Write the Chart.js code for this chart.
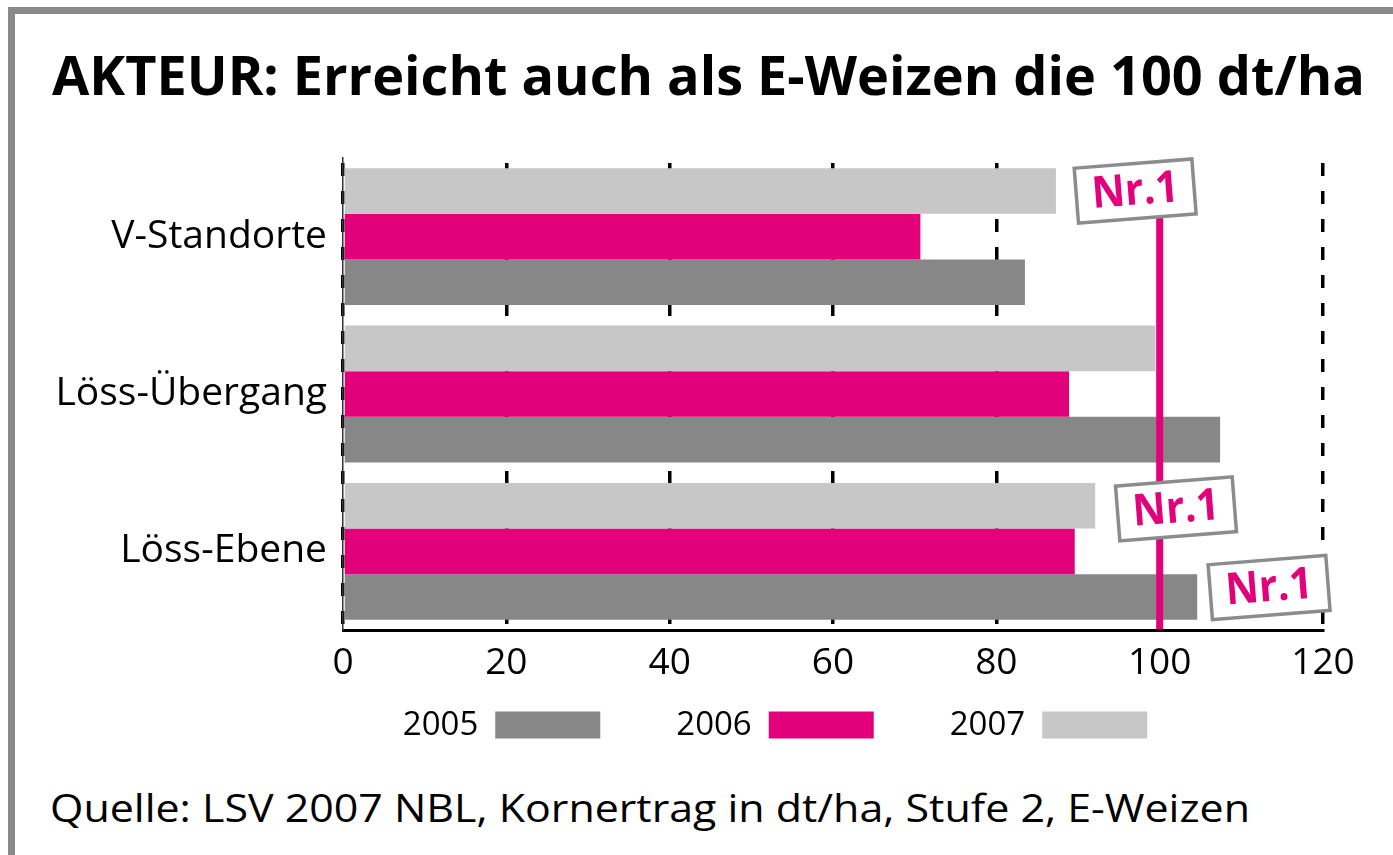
<!DOCTYPE html>
<html>
<head>
<meta charset="utf-8">
<script src="https://cdn.jsdelivr.net/npm/chart.js@4.4.1/dist/chart.umd.min.js"></script>
<style>
  html, body { margin:0; padding:0; background:#fff; width:1393px; height:855px; overflow:hidden; }
  #frame { position:absolute; left:8px; top:7px; right:0; bottom:0; border-left:7px solid #8a8a8a; border-top:7px solid #8a8a8a; }
  .txt { position:absolute; white-space:nowrap; line-height:1; font-family:"Open Sans", "Noto Sans", sans-serif; color:#000; transform-origin:0 0; }
  #title { left:52px; top:47px; font-size:54px; font-weight:700; }
  #source { left:50px; top:788px; font-size:38px; font-weight:400; }
  #c { position:absolute; left:0; top:0; }
</style>
</head>
<body>
<div id="frame"></div>
<div id="title" class="txt" data-w="1313">AKTEUR: Erreicht auch als E-Weizen die 100 dt/ha</div>
<div id="source" class="txt" data-w="1200">Quelle: LSV 2007 NBL, Kornertrag in dt/ha, Stufe 2, E-Weizen</div>
<canvas id="c" width="1393" height="855"></canvas>
<script>
// ---- data ----
const categories = ['V-Standorte', 'Löss-Übergang', 'Löss-Ebene'];
const values2005 = [83.5, 107.4, 104.6];
const values2006 = [70.7, 88.9, 89.6];
const values2007 = [87.3, 99.5, 92.1];
const xTicks = [0, 20, 40, 60, 80, 100, 120];
const referenceValue = 100;
const badgeText = 'Nr.1';

// ---- fit text widths ----
document.querySelectorAll('.txt').forEach(el => {
  const target = +el.dataset.w;
  const w = el.getBoundingClientRect().width;
  if (w > 0) el.style.transform = 'scaleX(' + (target / w) + ')';
});

const MAGENTA = '#e3007b';
const DARK = '#878787';
const LIGHT = '#c6c7c6';
const FONT = '"Open Sans", "Noto Sans", sans-serif';

const annotationPlugin = {
  id: 'nr1',
  afterDatasetsDraw(chart, args, opts) {
    const ctx = chart.ctx, xs = chart.scales.x, ys = chart.scales.y, ca = chart.chartArea;
    const xr = xs.getPixelForValue(referenceValue);
    ctx.save();
    ctx.strokeStyle = MAGENTA;
    ctx.lineWidth = 7;
    ctx.beginPath(); ctx.moveTo(xr, ca.top + 20); ctx.lineTo(xr, ca.bottom - 1); ctx.stroke();
    for (const b of opts.badges) {
      const cx = xs.getPixelForValue(b.x), cy = ys.getPixelForValue(b.y);
      ctx.save();
      ctx.translate(cx, cy);
      ctx.rotate(-4.5 * Math.PI / 180);
      ctx.fillStyle = '#fff';
      ctx.fillRect(-b.w / 2, -b.h / 2, b.w, b.h);
      ctx.strokeStyle = '#8c8c8c';
      ctx.lineWidth = 3.5;
      ctx.strokeRect(-b.w / 2, -b.h / 2, b.w, b.h);
      ctx.scale(0.93, 1);
      ctx.fillStyle = MAGENTA;
      ctx.font = '700 44px ' + FONT;
      ctx.textAlign = 'center';
      ctx.textBaseline = 'middle';
      ctx.fillText(badgeText, 0, 1);
      ctx.restore();
    }
    ctx.restore();
  }
};

const legendPlugin = {
  id: 'rowLegend',
  afterDraw(chart, args, opts) {
    const ctx = chart.ctx;
    const items = chart.data.datasets.slice().reverse();
    ctx.save();
    ctx.font = '33px ' + FONT;
    ctx.textBaseline = 'middle';
    const widths = items.map(d => ctx.measureText(d.label).width + opts.textGap + opts.boxW);
    const total = widths.reduce((a, b) => a + b, 0) + opts.itemGap * (items.length - 1);
    let x = opts.centerX - total / 2;
    items.forEach((d, i) => {
      const tw = ctx.measureText(d.label).width;
      ctx.fillStyle = '#000';
      ctx.textAlign = 'left';
      ctx.fillText(d.label, x, opts.centerY + 1);
      const bx = x + tw + opts.textGap;
      ctx.fillStyle = d.backgroundColor;
      ctx.fillRect(bx, opts.centerY - opts.boxH / 2, opts.boxW, opts.boxH);
      x += widths[i] + opts.itemGap;
    });
    ctx.restore();
  }
};

new Chart(document.getElementById('c'), {
  type: 'bar',
  data: {
    labels: categories,
    datasets: [
      { label: '2007', data: values2007, backgroundColor: LIGHT },
      { label: '2006', data: values2006, backgroundColor: MAGENTA },
      { label: '2005', data: values2005, backgroundColor: DARK }
    ]
  },
  options: {
    indexAxis: 'y',
    responsive: false,
    animation: false,
    events: [],
    layout: { padding: { left: 0, top: 158, right: 70, bottom: 165 } },
    datasets: { bar: { barPercentage: 1.0, categoryPercentage: 0.87, borderWidth: 0 } },
    scales: {
      x: {
        type: 'linear', min: 0, max: 120,
        afterBuildTicks: s => { s.ticks = xTicks.map(v => ({ value: v })); },
        afterFit: s => { s.height = 60; },
        grid: { display: true, color: '#000', lineWidth: 3.5, drawTicks: false },
        border: { display: true, color: '#000', width: 3, dash: [13, 15], dashOffset: 23 },
        ticks: { color: '#000', font: { family: FONT, size: 37 }, padding: 11 }
      },
      y: {
        afterFit: s => { s.width = 343; },
        grid: { display: false, drawTicks: false },
        border: { display: true, color: '#333', width: 1.5 },
        ticks: { color: '#000', font: { family: FONT, size: 39 }, padding: 16 }
      }
    },
    plugins: {
      legend: { display: false },
      tooltip: { enabled: false },
      nr1: { badges: [
        { x: 97.0, y: -0.29, w: 118, h: 55 },
        { x: 102.0, y: 1.73, w: 117, h: 55 },
        { x: 113.4, y: 2.23, w: 118, h: 55 }
      ] },
      rowLegend: { centerX: 775, centerY: 725, boxW: 105, boxH: 27, textGap: 17, itemGap: 76 }
    }
  },
  plugins: [annotationPlugin, legendPlugin]
});
</script>
</body>
</html>
